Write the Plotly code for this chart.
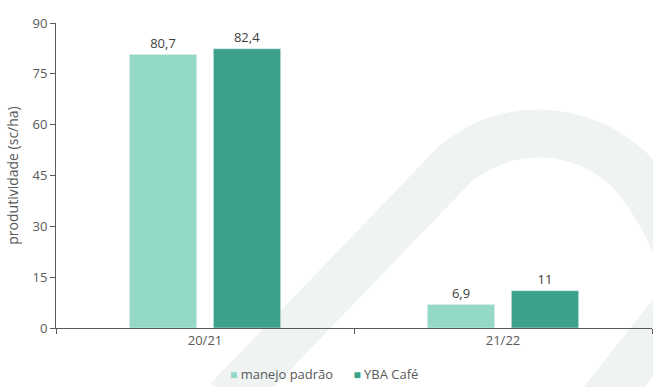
import plotly.graph_objects as go

categories = ["20/21", "21/22"]
manejo_padrao = [80.7, 6.9]
yba_cafe = [82.4, 11]
y_ticks = [0, 15, 30, 45, 60, 75, 90]
series_names = ["manejo padrão", "YBA Café"]
series_colors = ["#93d9c6", "#3ba18a"]

W, H = 653, 387
L, R, T, B = 56, 1, 23, 59
pw, ph = W - L - R, H - T - B

def px(x, y):
    return (x - L) / pw, (H - B - y) / ph

def path(points_cmds):
    s = ""
    for cmd, pts in points_cmds:
        s += cmd
        s += " ".join("%.4f,%.4f" % px(*p) for p in pts) + " "
    return s.strip()

axis_col = "#595959"
font_fam = "Open Sans, Noto Sans, sans-serif"

fig = go.Figure()
for name, vals, col in zip(series_names, [manejo_padrao, yba_cafe], series_colors):
    fig.add_trace(go.Bar(x=categories, y=vals, name=name, marker_color=col,
                         texttemplate="%{y}", textposition="outside",
                         textfont=dict(color="#404040", size=13),
                         cliponaxis=False, showlegend=False))

wm = "#eff3f2"
fig.add_shape(type="path", xref="paper", yref="paper", layer="below",
              path=path([("M", [(228, 400)]), ("L", [(455, 164)]),
                         ("C", [(510, 120), (580, 125), (630, 170)]),
                         ("C", [(660, 205), (675, 240), (690, 280)])]),
              line=dict(color=wm, width=48), fillcolor="rgba(0,0,0,0)")
fig.add_shape(type="path", xref="paper", yref="paper", layer="below",
              path=path([("M", [(590, 418)]), ("L", [(700, 278)])]),
              line=dict(color=wm, width=48), fillcolor="rgba(0,0,0,0)")

legend_txt = "&nbsp;&nbsp;&nbsp;&nbsp;&nbsp;&nbsp;".join(
    '<span style="color:%s;font-size:12px">■</span>&nbsp;%s' % (c, n)
    for n, c in zip(series_names, series_colors))
fig.add_annotation(xref="paper", yref="paper", x=px(323.5, 374)[0], y=px(323.5, 374)[1],
                   text=legend_txt, showarrow=False, xanchor="center", yanchor="middle",
                   font=dict(size=13, color=axis_col, family=font_fam))

fig.update_layout(
    width=W, height=H, margin=dict(l=L, r=R, t=T, b=B, autoexpand=False),
    paper_bgcolor="white", plot_bgcolor="rgba(0,0,0,0)",
    barmode="group", bargap=0.436, bargroupgap=0.2,
    separators=",.",
    font=dict(family=font_fam, size=12, color=axis_col),
    showlegend=False,
    xaxis=dict(showline=True, linecolor=axis_col, linewidth=1,
               ticks="outside", ticklen=5, tickcolor=axis_col,
               tickson="boundaries", showgrid=False, automargin=False,
               tickfont=dict(size=13, color=axis_col)),
    yaxis=dict(range=[0, 90], tickvals=y_ticks, showline=True,
               linecolor=axis_col, linewidth=1, ticks="outside", ticklen=5,
               tickcolor=axis_col, showgrid=False, zeroline=False, automargin=False,
               title=dict(text="produtividade (sc/ha)", standoff=10,
                          font=dict(size=14, color=axis_col)),
               tickfont=dict(size=13, color=axis_col)),
)

fig.write_html("out.html", config={"displayModeBar": False})
with open("out.html", "r", encoding="utf-8") as f:
    html = f.read()
html = html.replace("<head>", "<head><style>html,body{margin:0;padding:0;overflow:hidden;}</style>", 1)
with open("out.html", "w", encoding="utf-8") as f:
    f.write(html)
